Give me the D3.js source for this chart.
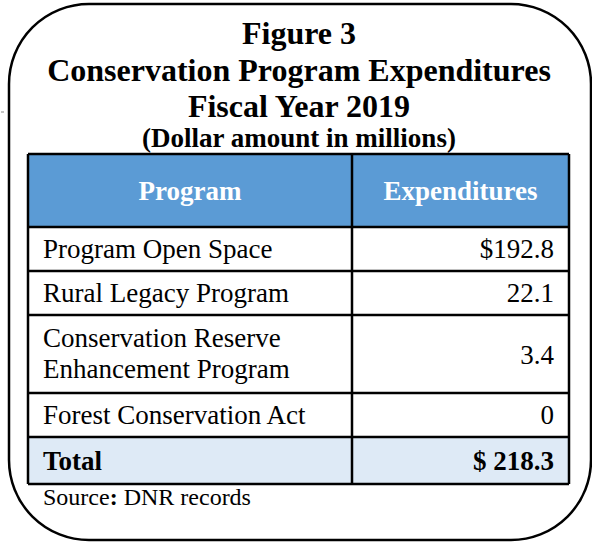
<!DOCTYPE html>
<html>
<head>
<meta charset="utf-8">
<script src="https://cdn.jsdelivr.net/npm/d3@7"></script>
<style>
  body { margin: 0; background: #fff; }
  text { font-family: "Liberation Serif", "Times New Roman", serif; }
</style>
</head>
<body>
<div id="visual"></div>
<script>
///// DATA /////
var titleLines = ["Figure 3", "Conservation Program Expenditures", "Fiscal Year 2019"];
var subtitle = "(Dollar amount in millions)";
var headers = ["Program", "Expenditures"];
var programs = [
	["Program Open Space"],
	["Rural Legacy Program"],
	["Conservation Reserve", "Enhancement Program"],
	["Forest Conservation Act"]
];
var expenditures = [192.8, 22.1, 3.4, 0];
var totalLabel = "Total";
var sourceNote = "DNR records";

///// DIMENSIONS /////
var W = 592, H = 544;
var table = { left: 28, right: 569, top: 154, split: 352 };
var headerH = 73, lineH = 31, singleH = 44, totalH = 47;

var svg = d3.select('#visual')
	.append('svg')
	.attr('width', W)
	.attr('height', H);

// rounded frame
svg.append('rect')
	.attr('x', 9).attr('y', 4)
	.attr('width', 582).attr('height', 536)
	.attr('rx', 80).attr('ry', 80)
	.attr('fill', '#fff')
	.attr('stroke', '#000')
	.attr('stroke-width', 2.5);

// stray mark on left
svg.append('line')
	.attr('x1', 1).attr('x2', 4).attr('y1', 112).attr('y2', 112)
	.attr('stroke', '#888').attr('stroke-width', 1);

///// TITLE /////
svg.selectAll('.title')
	.data(titleLines).enter().append('text')
	.attr('class', 'title')
	.attr('x', 299)
	.attr('y', (d, i) => 44 + i * 36.5)
	.attr('text-anchor', 'middle')
	.style('font-size', '32px')
	.style('font-weight', 'bold')
	.text(d => d);

svg.append('text')
	.attr('x', 299).attr('y', 147)
	.attr('text-anchor', 'middle')
	.style('font-size', '27px')
	.style('font-weight', 'bold')
	.text(subtitle);

///// ROWS /////
// row heights come from the number of text lines in each program label
var rows = programs.map((p, i) => ({ lines: p, value: expenditures[i], h: p.length > 1 ? p.length * lineH + 16 : singleH }));
var total = d3.sum(expenditures);

var y = table.top + headerH;
rows.forEach(r => { r.y = y; y += r.h; });
var totalY = y;
var bottom = totalY + totalH;

var xRight = d3.scaleLinear().domain([0, 1]).range([table.split, table.right]);
var fmt = d3.format('.1f');

// header
svg.append('rect')
	.attr('x', table.left).attr('y', table.top)
	.attr('width', table.right - table.left).attr('height', headerH)
	.attr('fill', '#5b9bd5');

// total row
svg.append('rect')
	.attr('x', table.left).attr('y', totalY)
	.attr('width', table.right - table.left).attr('height', totalH)
	.attr('fill', '#deeaf6');

svg.selectAll('.head')
	.data(headers).enter().append('text')
	.attr('class', 'head')
	.attr('x', (d, i) => i === 0 ? (table.left + table.split) / 2 : (table.split + table.right) / 2)
	.attr('y', table.top + headerH / 2 + 9.5)
	.attr('text-anchor', 'middle')
	.attr('fill', '#fff')
	.style('font-size', '27px')
	.style('font-weight', 'bold')
	.text(d => d);

var rowG = svg.selectAll('.row')
	.data(rows).enter().append('g')
	.attr('class', 'row')
	.attr('transform', d => `translate(0,${d.y})`);

rowG.selectAll('.lbl')
	.data(d => d.lines.map(l => ({ l: l, n: d.lines.length, h: d.h }))).enter().append('text')
	.attr('class', 'lbl')
	.attr('x', table.left + 15)
	.attr('y', (d, i) => d.n > 1 ? 32 + i * lineH : d.h / 2 + 9)
	.style('font-size', '27px')
	.text(d => d.l);

rowG.append('text')
	.attr('x', xRight(1) - 15)
	.attr('y', d => d.h / 2 + (d.lines.length > 1 ? 10 : 9))
	.attr('text-anchor', 'end')
	.style('font-size', '27px')
	.text((d, i) => i === 0 ? '$' + fmt(d.value) : (d.value === 0 ? '0' : fmt(d.value)));

svg.append('text')
	.attr('x', table.left + 15)
	.attr('y', totalY + totalH / 2 + 9)
	.style('font-size', '27px')
	.style('font-weight', 'bold')
	.text(totalLabel);

svg.append('text')
	.attr('x', xRight(1) - 15)
	.attr('y', totalY + totalH / 2 + 9)
	.attr('text-anchor', 'end')
	.style('font-size', '27px')
	.style('font-weight', 'bold')
	.text('$ ' + fmt(total));

///// GRID LINES /////
var hLines = [table.top, table.top + headerH].concat(rows.slice(1).map(r => r.y), [totalY, bottom]);
svg.selectAll('.hline')
	.data(hLines).enter().append('line')
	.attr('x1', table.left).attr('x2', table.right)
	.attr('y1', d => d).attr('y2', d => d)
	.attr('stroke', '#000').attr('stroke-width', 2.5);

svg.selectAll('.vline')
	.data([table.left, table.split, table.right]).enter().append('line')
	.attr('x1', d => d).attr('x2', d => d)
	.attr('y1', table.top).attr('y2', bottom)
	.attr('stroke', '#000').attr('stroke-width', 2.5);

///// SOURCE /////
var src = svg.append('text')
	.attr('x', table.left + 15).attr('y', 505)
	.style('font-size', '24px');
src.append('tspan').text('Source');
src.append('tspan').style('font-weight', 'bold').text(':');
src.append('tspan').text(' ' + sourceNote);
</script>
</body>
</html>
